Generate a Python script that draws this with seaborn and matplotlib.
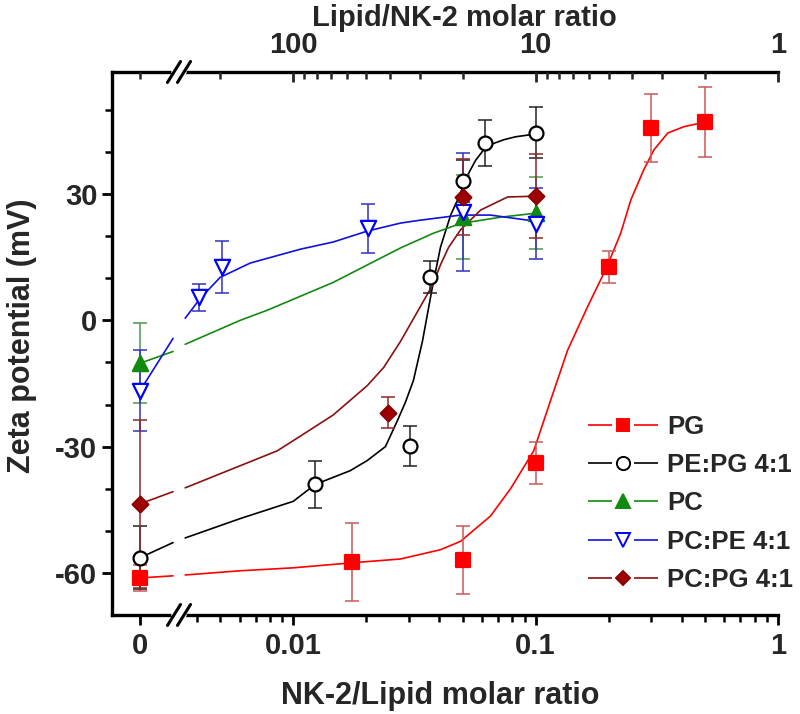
import numpy as np
import pandas as pd
import matplotlib
matplotlib.use("Agg")
import matplotlib.pyplot as plt
from matplotlib.lines import Line2D
import seaborn as sns

# measured points (NK-2/lipid molar ratio, zeta potential mV, error)
pg_x = [0, 0.0175, 0.05, 0.1, 0.2, 0.3, 0.5]
pg_y = [-61.2, -57.4, -56.9, -34.0, 12.6, 45.7, 47.1]
pg_err = [3, 9.2, 8, 5, 3.8, 8, 8.3]

pepg_x = [0, 0.0123, 0.0304, 0.0368, 0.05, 0.062, 0.1]
pepg_y = [-56.4, -39.0, -29.8, 10.2, 33.1, 42.1, 44.6]
pepg_err = [7.5, 5.6, 4.8, 3.8, 5, 5.4, 6]

pc_x = [0, 0.05, 0.1]
pc_y = [-10.2, 24.5, 25.5]
pc_err = [9.5, 10, 8.5]

pcpe_x = [0, 0.0041, 0.0051, 0.0204, 0.05, 0.1]
pcpe_y = [-16.7, 5.5, 12.6, 21.9, 25.7, 23.0]
pcpe_err = [9.6, 3.2, 6.2, 5.8, 14, 8.5]

pcpg_x = [0, 0.0247, 0.05, 0.1]
pcpg_y = [-43.6, -21.9, 29.3, 29.5]
pcpg_err = [20, 3.7, 9, 10]

# fitted curves (nan = axis break)
pg_fit_x = [0, 0.0027, np.nan, 0.00358, 0.00604, 0.01, 0.0175, 0.0277, 0.0405, 0.049,
            0.0651, 0.0788, 0.0982, 0.1153, 0.1355, 0.164, 0.1965, 0.2244, 0.247,
            0.279, 0.3076, 0.351, 0.409, 0.49]
pg_fit_y = [-61.2, -60.7, np.nan, -60.5, -59.5, -58.8, -57.6, -56.7, -54.5, -52.5,
            -46.5, -40, -31, -19, -7.1, 3.3, 12.6, 20.7, 28.6,
            35.7, 40.5, 44.5, 46, 47]

pepg_fit_x = [0, 0.0027, np.nan, 0.00358, 0.00604, 0.01, 0.0123, 0.0172, 0.0202, 0.024,
              0.0269, 0.029, 0.0313, 0.0341, 0.0375, 0.0405, 0.0446, 0.0476, 0.0524,
              0.0565, 0.061, 0.067, 0.0738, 0.0826, 0.0927, 0.1019]
pepg_fit_y = [-56.4, -52.8, np.nan, -51.7, -47.1, -43, -39, -35.7, -33.3, -30,
              -23.8, -19.5, -14.3, -5, 7.9, 17.4, 25, 28.6, 34.5,
              38, 40.5, 42, 42.9, 43.6, 44, 44.5]

pc_fit_x = [0, 0.0027, np.nan, 0.00358, 0.00604, 0.00781, 0.0146, 0.0277, 0.0379,
            0.049, 0.0716, 0.1019]
pc_fit_y = [-10.2, -7.4, np.nan, -5.7, 0.0, 2.4, 9, 17.2, 20.7,
            23, 24.5, 25.5]

pcpe_fit_x = [0, 0.0027, np.nan, 0.00358, 0.00413, 0.00499, 0.00664, 0.0107, 0.0146,
              0.0202, 0.0277, 0.0335, 0.049, 0.0651, 0.0927, 0.1019]
pcpe_fit_y = [-16.7, -4.3, np.nan, 0.5, 5.2, 10.2, 13.6, 16.9, 18.6,
              21.2, 23.1, 23.8, 25, 25, 23.8, 23]

pcpg_fit_x = [0, 0.0027, np.nan, 0.00358, 0.00549, 0.00859, 0.0107, 0.0146, 0.0202,
              0.0236, 0.0277, 0.0375, 0.0405, 0.0437, 0.049, 0.0593, 0.0766, 0.1019]
pcpg_fit_y = [-43.6, -40.7, np.nan, -39.8, -35.5, -31, -27.5, -22.5, -15.5,
              -11.2, -5, 8.3, 13.2, 17.3, 21.5, 26.2, 29.3, 29.5]

labels = ["PG", "PE:PG 4:1", "PC", "PC:PE 4:1", "PC:PG 4:1"]
x_ticks = [0, 0.01, 0.1, 1]
x_ticklabels = ["0", "0.01", "0.1", "1"]
top_ratios = [100, 10, 1]
top_minor_ratios = [200, 90, 80, 70, 60, 50, 40, 30, 20, 9, 8, 7, 6, 5, 4, 3, 2]

series = [
    # points, errors, curve, line colour, marker, face, edge, bar colour, size
    (pg_x, pg_y, pg_err, pg_fit_x, pg_fit_y, "#ff0000", "s", "#ff0000", "#ff0000", "#c85a5a", 9.5),
    (pepg_x, pepg_y, pepg_err, pepg_fit_x, pepg_fit_y, "#000000", "o", "white", "#000000", "#222222", 10),
    (pc_x, pc_y, pc_err, pc_fit_x, pc_fit_y, "#128a12", "^", "#128a12", "#128a12", "#4c9a4c", 11),
    (pcpe_x, pcpe_y, pcpe_err, pcpe_fit_x, pcpe_fit_y, "#1010e0", "v", "white", "#0000ff", "#3030c0", 11),
    (pcpg_x, pcpg_y, pcpg_err, pcpg_fit_x, pcpg_fit_y, "#8b1010", "D", "#a00000", "#8b0000", "#8b2a2a", 8),
]

sns.set_theme(style="ticks")
plt.rcParams["font.family"] = ["Liberation Sans", "DejaVu Sans"]
plt.rcParams["font.weight"] = "bold"
plt.rcParams["axes.labelweight"] = "bold"
plt.rcParams["axes.unicode_minus"] = False

fig = plt.figure(figsize=(8, 7.14), dpi=100)
ax = fig.add_axes([0.14, 0.1387, 0.8325, 0.7605])
ax.set_xscale("symlog", linthresh=0.0035, linscale=0.1587, base=10)

handles = []
for px, py, perr, fx, fy, lc, mk, fc, ec, bc, ms in series:
    fit = pd.DataFrame({"x": fx, "y": fy})
    fit["seg"] = fit["x"].isna().cumsum()
    fit = fit.dropna()
    sns.lineplot(data=fit, x="x", y="y", units="seg", estimator=None, sort=False,
                 color=lc, linewidth=1.2, ax=ax, zorder=2)
    ax.errorbar(px, py, yerr=perr, fmt="none", ecolor=bc, elinewidth=1.1,
                capsize=5, capthick=1.1, zorder=3)
    sns.scatterplot(x=px, y=py, marker=mk, s=ms ** 2, color=fc, edgecolor=ec,
                    linewidth=1.6, ax=ax, zorder=4)
    handles.append(Line2D([], [], color=lc, linewidth=1.2, linestyle=(0, (14.4, 13.2)),
                          marker=mk, markersize=ms * 0.95, markerfacecolor=fc,
                          markeredgecolor=ec, markeredgewidth=1.4))

ax.set_xlim(-0.0023, 1.0)
ax.set_ylim(-70, 59)
ax.set_xticks(x_ticks)
ax.set_xticklabels(x_ticklabels)
ax.set_xticks([0.004, 0.005, 0.006, 0.007, 0.008, 0.009,
               0.02, 0.03, 0.04, 0.05, 0.06, 0.07, 0.08, 0.09,
               0.2, 0.3, 0.4, 0.5, 0.6, 0.7, 0.8, 0.9], minor=True)
ax.set_yticks([-60, -30, 0, 30])
ax.set_yticks([-50, -40, -20, -10, 10, 20, 40, 50], minor=True)

ax.tick_params(axis="both", which="major", direction="out", length=7.5, width=2,
               labelsize=21, color="black")
ax.tick_params(axis="both", which="minor", direction="out", length=5, width=1.8,
               color="black")
ax.tick_params(axis="x", pad=5)
ax.tick_params(axis="y", pad=3)
ax.tick_params(top=False, right=False, which="both")

for side in ["left", "bottom", "top"]:
    ax.spines[side].set_linewidth(2.4)
    ax.spines[side].set_color("black")
ax.spines["right"].set_visible(False)

ax.set_xlabel("NK-2/Lipid molar ratio", fontsize=22)
ax.xaxis.set_label_coords(0.4925, -0.122)
ax.set_ylabel("Zeta potential (mV)", fontsize=22)
ax.yaxis.set_label_coords(-0.113, 0.514)

# top axis: lipid/NK-2 ratio (reciprocal)
ax2 = ax.twiny()
ax2.set_xscale("symlog", linthresh=0.0035, linscale=0.1587, base=10)
ax2.set_xlim(ax.get_xlim())
ax2.set_xticks([1 / r for r in top_ratios])
ax2.set_xticklabels([str(r) for r in top_ratios])
ax2.set_xticks([0] + [1 / r for r in top_minor_ratios], minor=True)
ax2.tick_params(axis="x", which="major", direction="in", length=7.5, width=2,
                labelsize=21, pad=9)
ax2.tick_params(axis="x", which="minor", direction="in", length=5, width=1.8)
for s in ax2.spines.values():
    s.set_visible(False)
ax2.set_xlabel("Lipid/NK-2 molar ratio", fontsize=21)
ax2.xaxis.set_label_coords(0.5285, 1.085)

# axis break marks
bx = 0.1006
for yb in [0, 1]:
    ax.plot([bx - 0.0075, bx + 0.0075], [yb, yb], color="white", linewidth=4,
            transform=ax.transAxes, clip_on=False, zorder=10)
    for off in [-0.0075, 0.0075]:
        ax.plot([bx + off - 0.0098, bx + off + 0.0098], [yb - 0.0193, yb + 0.0193],
                color="black", linewidth=2.2, transform=ax.transAxes,
                clip_on=False, zorder=11)

ax.legend(handles, labels, loc="upper left", bbox_to_anchor=(0.7147, 0.368),
          frameon=False, fontsize=18.5, handlelength=2.72, handletextpad=0.35,
          labelspacing=0.55, borderpad=0, borderaxespad=0, numpoints=1)

fig.savefig("out.png", dpi=100)
